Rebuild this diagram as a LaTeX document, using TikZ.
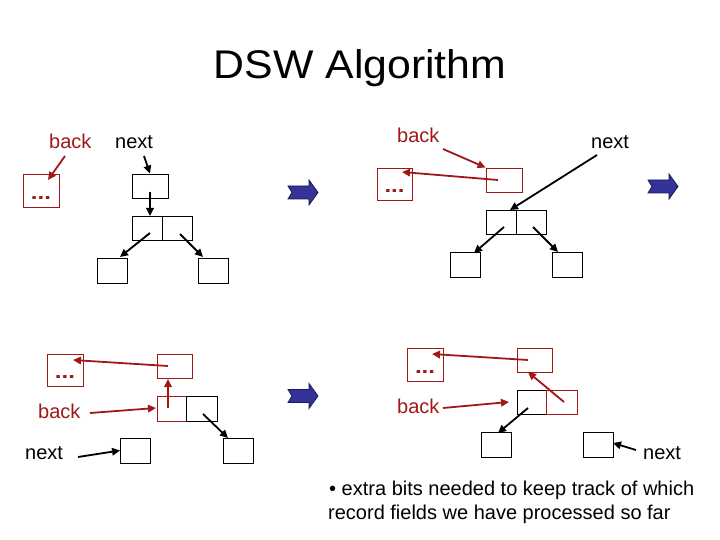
\documentclass[tikz,border=0pt]{standalone}
\usepackage{fontspec}
\setmainfont{Liberation Sans}
\usetikzlibrary{arrows.meta,calc}
\definecolor{dred}{RGB}{160,24,24}
\definecolor{dblue}{RGB}{51,51,153}
\definecolor{dblueedge}{RGB}{25,25,90}
\tikzset{
  bx/.style={draw=black, line width=0.9pt, inner sep=0pt},
  rbx/.style={draw=dred, line width=0.9pt, inner sep=0pt},
  cellsz/.style={minimum width=30pt, minimum height=24pt},
  leafsz/.style={minimum width=30pt, minimum height=25pt},
  topsz/.style={minimum width=36pt, minimum height=24pt},
  dotsz/.style={minimum width=36pt, minimum height=33pt},
  lbl/.style={font=\fontsize{20}{24}\selectfont, anchor=base west, inner sep=0pt},
  rlbl/.style={lbl, text=dred},
  dotstxt/.style={font=\fontsize{20}{24}\selectfont\bfseries, text=dred, anchor=base, inner sep=0pt, xscale=1.2},
  ptr/.style={draw=black, line width=1.8pt, -{Triangle[length=8pt,width=7.5pt]}},
  rptr/.style={draw=dred, line width=1.8pt, -{Triangle[length=8pt,width=7.5pt]}},
  bluearrow/.pic={\filldraw[fill=dblue, draw=dblueedge, line width=0.8pt]
     (0,-6.5) -- (21,-6.5) -- (21,-12.5) -- (30,0) -- (21,12.5) -- (21,6.5) -- (0,6.5) -- (4,0) -- cycle;}
}
\begin{document}
\begin{tikzpicture}[x=1pt,y=-1pt]
\useasboundingbox (0,0) rectangle (720,540);
\fill[white] (0,0) rectangle (720,540);

% title
\node[anchor=base, inner sep=0pt, font=\fontsize{40}{48}\selectfont, xscale=1.07] (title) at (360,79) {DSW Algorithm};

% ---------- panel 1 ----------
\node[rlbl] (back1) at (49,149) {back};
\node[lbl] (next1) at (115,149) {next};
\node[rbx, dotsz] (d1) at (41,190.5) {};
\node[dotstxt] (d1t) at ($(d1.south)+(0,-8)$) {...};
\node[bx, topsz] (t1) at (150,186) {};
\node[bx, cellsz] (L1) at (147,228) {};
\node[bx, cellsz] (R1) at (177,228) {};
\node[bx, leafsz] (a1) at (112,270.5) {};
\node[bx, leafsz] (b1) at (213,270.5) {};
\coordinate (back1s) at (65,156);
\coordinate (d1in) at (48,180);
\coordinate (next1s) at (144,156);
\coordinate (t1p) at (150,192);
\coordinate (L1top) at (150,216);
\coordinate (L1p) at (150,233);
\coordinate (R1p) at (180,234);
\coordinate (a1e) at (120,257);
\coordinate (b1e) at (203,257);
\draw[rptr] (back1s) -- (d1in);
\draw[ptr] (next1s) -- (t1.north);
\draw[ptr] (t1p) -- (L1top);
\draw[ptr] (L1p) -- (a1e);
\draw[ptr] (R1p) -- (b1e);
\pic at (288,192.5) {bluearrow};

% ---------- panel 2 ----------
\node[rlbl] (back2) at (397,143) {back};
\node[lbl] (next2) at (591,149) {next};
\node[rbx, minimum width=35pt, minimum height=32pt] (d2) at (394.5,184) {};
\node[dotstxt] (d2t) at ($(d2.south)+(0,-8)$) {...};
\node[rbx, topsz] (r2) at (504,180) {};
\node[bx, cellsz] (L2) at (501,222) {};
\node[bx, cellsz] (R2) at (531.5,222) {};
\node[bx, leafsz] (a2) at (465.5,264.5) {};
\node[bx, leafsz] (b2) at (567.5,264.5) {};
\coordinate (back2s) at (443,149);
\coordinate (r2p) at (498,180);
\coordinate (d2in) at (402,172);
\coordinate (next2s) at (597,155);
\coordinate (L2in) at (510,210);
\coordinate (L2p) at (504,227);
\coordinate (R2p) at (533,227);
\coordinate (a2e) at (474,253);
\coordinate (b2e) at (558,252);
\draw[rptr] (back2s) -- (r2.north west);
\draw[rptr] (r2p) -- (d2in);
\draw[ptr] (next2s) -- (L2in);
\draw[ptr] (L2p) -- (a2e);
\draw[ptr] (R2p) -- (b2e);
\pic at (648,186.5) {bluearrow};

% ---------- panel 3 ----------
\node[rbx, minimum width=36pt, minimum height=32pt] (d3) at (65,370) {};
\node[dotstxt] (d3t) at ($(d3.south)+(0,-8)$) {...};
\node[rbx, minimum width=35pt, minimum height=24pt] (r3) at (174.5,366) {};
\node[rbx, minimum width=29pt, minimum height=25pt] (L3) at (171.5,408.5) {};
\node[bx, minimum width=31pt, minimum height=25pt] (R3) at (201.5,408.5) {};
\node[bx, leafsz] (a3) at (135.5,450.5) {};
\node[bx, leafsz] (b3) at (238,450.5) {};
\node[rlbl] (back3) at (38,418) {back};
\node[lbl] (next3) at (25,459) {next};
\coordinate (r3p) at (168,366);
\coordinate (d3in) at (73,360);
\coordinate (L3p) at (168,408);
\coordinate (r3bot) at (168,379);
\coordinate (back3s) at (90,413);
\coordinate (L3in) at (156,408);
\coordinate (next3s) at (78,457);
\coordinate (R3p) at (203,414);
\coordinate (b3e) at (228,438);
\draw[rptr] (r3p) -- (d3in);
\draw[rptr] (L3p) -- (r3bot);
\draw[rptr] (back3s) -- (L3in);
\draw[ptr] (next3s) -- (a3.west);
\draw[ptr] (R3p) -- (b3e);
\pic at (288,396) {bluearrow};

% ---------- panel 4 ----------
\node[rbx, dotsz] (d4) at (425,364.5) {};
\node[dotstxt] (d4t) at ($(d4.south)+(0,-8)$) {...};
\node[rbx, minimum width=35pt, minimum height=24pt] (r4) at (534.5,360) {};
\node[bx, minimum width=29pt, minimum height=24pt] (L4) at (531.5,402) {};
\node[rbx, minimum width=31pt, minimum height=24pt] (R4) at (561.5,402) {};
\node[bx, leafsz] (a4) at (496,444.5) {};
\node[bx, leafsz] (b4) at (598,444.5) {};
\node[rlbl] (back4) at (397,413) {back};
\node[lbl] (next4) at (643,459) {next};
\coordinate (r4p) at (528,360);
\coordinate (d4in) at (432,354);
\coordinate (R4p) at (564,402);
\coordinate (r4bot) at (528,372);
\coordinate (back4s) at (443,408);
\coordinate (L4in) at (509,402);
\coordinate (L4p) at (528,408);
\coordinate (a4e) at (498,433);
\coordinate (next4s) at (636,450);
\coordinate (b4e) at (613,443);
\draw[rptr] (r4p) -- (d4in);
\draw[rptr] (R4p) -- (r4bot);
\draw[rptr] (back4s) -- (L4in);
\draw[ptr] (L4p) -- (a4e);
\draw[ptr] (next4s) -- (b4e);

% bottom text
\node[lbl] (note1) at (329,495) {\textbullet{} extra bits needed to keep track of which};
\node[lbl] (note2) at (328,519) {record fields we have processed so far};
\end{tikzpicture}
\end{document}
